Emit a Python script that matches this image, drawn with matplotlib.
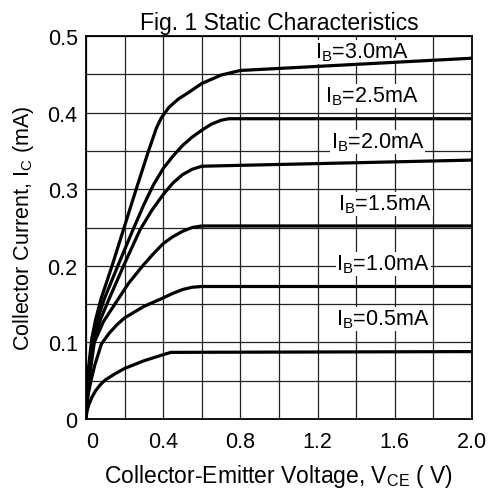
import matplotlib
matplotlib.use("Agg")
from matplotlib import pyplot as plt
import numpy as np

plt.rcParams['font.family'] = ['Liberation Sans', 'DejaVu Sans']
plt.rcParams['mathtext.fontset'] = 'custom'
plt.rcParams['mathtext.rm'] = 'Liberation Sans'

# Collector current Ic (mA) vs VCE (V), one curve per base current
ib_labels = ['3.0', '2.5', '2.0', '1.5', '1.0', '0.5']

vce_30 = [0, 0.004, 0.012, 0.03, 0.05, 0.078, 0.135, 0.2, 0.26, 0.32, 0.365, 0.39, 0.43,
          0.48, 0.53, 0.6, 0.7, 0.8, 2.0]
ic_30 = [0, 0.03, 0.065, 0.105, 0.13, 0.157, 0.2, 0.252, 0.3, 0.347, 0.38, 0.393, 0.407,
         0.418, 0.426, 0.438, 0.449, 0.455, 0.471]

vce_25 = [0, 0.004, 0.012, 0.035, 0.06, 0.095, 0.17, 0.24, 0.3, 0.35, 0.4, 0.45, 0.5,
          0.55, 0.6, 0.65, 0.7, 0.74, 2.0]
ic_25 = [0, 0.025, 0.055, 0.1, 0.13, 0.157, 0.203, 0.245, 0.28, 0.306, 0.327, 0.343, 0.357,
         0.368, 0.377, 0.385, 0.39, 0.392, 0.392]

vce_20 = [0, 0.005, 0.015, 0.04, 0.075, 0.12, 0.2, 0.28, 0.34, 0.4, 0.45, 0.5, 0.55, 0.6, 2.0]
ic_20 = [0, 0.025, 0.055, 0.1, 0.13, 0.157, 0.203, 0.247, 0.272, 0.293, 0.308, 0.319, 0.326,
         0.330, 0.338]

vce_15 = [0, 0.005, 0.015, 0.043, 0.09, 0.155, 0.22, 0.294, 0.35, 0.4, 0.45, 0.5, 0.55, 0.6, 2.0]
ic_15 = [0, 0.02, 0.05, 0.1, 0.127, 0.152, 0.177, 0.2, 0.216, 0.229, 0.238, 0.245, 0.25,
         0.252, 0.252]

vce_10 = [0, 0.004, 0.012, 0.026, 0.045, 0.08, 0.12, 0.16, 0.2, 0.3, 0.39, 0.45, 0.5, 0.55,
          0.6, 2.0]
ic_10 = [0, 0.015, 0.033, 0.05, 0.07, 0.098, 0.112, 0.123, 0.132, 0.147, 0.157, 0.164, 0.169,
         0.172, 0.173, 0.173]

vce_05 = [0, 0.005, 0.015, 0.03, 0.05, 0.075, 0.1, 0.15, 0.2, 0.3, 0.4, 0.44, 2.0]
ic_05 = [0, 0.01, 0.019, 0.028, 0.037, 0.045, 0.051, 0.059, 0.066, 0.076, 0.084, 0.087, 0.088]

# where the IB labels sit (V, mA)
label_x = [1.43, 1.48, 1.51, 1.55, 1.54, 1.54]
label_y = [0.479, 0.422, 0.362, 0.281, 0.2025, 0.1305]

x_ticks = [0, 0.4, 0.8, 1.2, 1.6, 2.0]
x_tick_labels = ['0', '0.4', '0.8', '1.2', '1.6', '2.0']
y_ticks = [0, 0.1, 0.2, 0.3, 0.4, 0.5]
y_tick_labels = ['0', '0.1', '0.2', '0.3', '0.4', '0.5']

fs = 15.5

fig = plt.figure(figsize=(4.88, 4.89), dpi=100)
ax = fig.add_axes([86/488, 1 - 420/489, 386/488, 383/489])

curves = [(vce_30, ic_30), (vce_25, ic_25), (vce_20, ic_20),
          (vce_15, ic_15), (vce_10, ic_10), (vce_05, ic_05)]
for v, i in curves:
    ax.plot(v, i, color='black', lw=2.3, solid_joinstyle='round',
            solid_capstyle='butt', zorder=4)

for k in range(len(ib_labels)):
    ax.text(label_x[k], label_y[k], r'$\mathregular{I_B}$=' + ib_labels[k] + 'mA',
            fontsize=fs, ha='center', va='center', zorder=3,
            bbox=dict(facecolor='white', edgecolor='none', pad=0.5))

ax.set_xlim(0, 2.0)
ax.set_ylim(0, 0.5)
ax.set_xticks(x_ticks)
ax.set_xticklabels(x_tick_labels, fontsize=fs)
ax.set_yticks(y_ticks)
ax.set_yticklabels(y_tick_labels, fontsize=fs)
ax.set_xticks(np.arange(0, 2.01, 0.2), minor=True)
ax.set_yticks(np.arange(0, 0.501, 0.05), minor=True)
ax.tick_params(which='both', length=0)
ax.tick_params(axis='x', pad=9)
ax.tick_params(axis='y', pad=6)
ax.get_xticklabels()[0].set_ha('left')
ax.grid(which='both', color='#222222', lw=0.9, zorder=1)
ax.set_axisbelow(True)
for s in ax.spines.values():
    s.set_linewidth(1.3)

ax.set_xlabel(r'Collector-Emitter Voltage, $\mathregular{V_{CE}}$ ( V)', fontsize=16.5, labelpad=7)
ax.set_ylabel(r'Collector Current, $\mathregular{I_C}$ (mA)', fontsize=fs, labelpad=8)
ax.set_title('Fig. 1 Static Characteristics', fontsize=16.5, pad=5)

fig.savefig('out.png', dpi=100)
